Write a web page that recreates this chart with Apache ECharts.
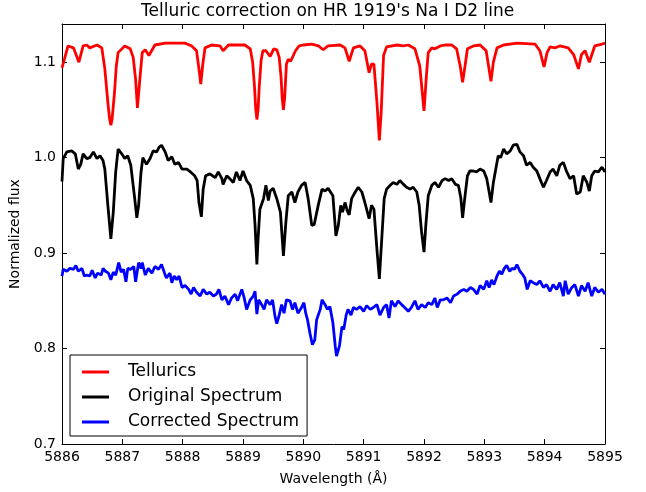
<!DOCTYPE html>
<html>
<head>
<meta charset="utf-8">
<script src="https://cdn.jsdelivr.net/npm/echarts@6/dist/echarts.min.js"></script>
<style>html,body{margin:0;padding:0;background:#fff;}#c{width:646px;height:492px;}</style>
</head>
<body>
<div id="c"></div>
<script>
// Tellurics (red)
var tellX = [5886.00,5886.10,5886.19,5886.28,5886.35,5886.41,5886.46,5886.58,5886.66,5886.71,5886.76,5886.79,5886.81,5886.83,5886.87,5886.90,5886.93,5887.04,5887.13,5887.18,5887.22,5887.25,5887.29,5887.33,5887.38,5887.44,5887.54,5887.71,5888.04,5888.15,5888.23,5888.27,5888.30,5888.33,5888.37,5888.48,5888.62,5888.67,5888.76,5889.03,5889.12,5889.16,5889.19,5889.21,5889.23,5889.25,5889.27,5889.30,5889.33,5889.38,5889.45,5889.51,5889.56,5889.60,5889.63,5889.65,5889.67,5889.69,5889.72,5889.75,5889.79,5889.82,5889.87,5889.93,5890.00,5890.14,5890.25,5890.33,5890.41,5890.61,5890.69,5890.76,5890.83,5890.94,5891.02,5891.09,5891.13,5891.17,5891.22,5891.26,5891.29,5891.33,5891.38,5891.55,5891.66,5891.74,5891.85,5891.93,5892.00,5892.04,5892.07,5892.13,5892.18,5892.27,5892.35,5892.46,5892.54,5892.60,5892.64,5892.68,5892.72,5892.82,5892.93,5893.03,5893.07,5893.11,5893.15,5893.21,5893.32,5893.54,5893.84,5893.92,5893.99,5894.04,5894.09,5894.17,5894.25,5894.39,5894.48,5894.56,5894.61,5894.67,5894.74,5894.83,5894.95,5895.00];
var tellY = [1.094,1.117,1.115,1.100,1.117,1.118,1.115,1.118,1.115,1.093,1.058,1.040,1.034,1.040,1.068,1.096,1.110,1.117,1.114,1.105,1.082,1.052,1.082,1.110,1.113,1.107,1.118,1.120,1.120,1.117,1.112,1.093,1.077,1.096,1.115,1.118,1.117,1.112,1.118,1.118,1.114,1.100,1.075,1.052,1.040,1.050,1.075,1.102,1.112,1.112,1.106,1.114,1.113,1.105,1.085,1.062,1.050,1.062,1.098,1.103,1.101,1.103,1.112,1.117,1.118,1.119,1.117,1.113,1.117,1.118,1.115,1.101,1.115,1.117,1.112,1.089,1.098,1.098,1.058,1.018,1.047,1.107,1.116,1.118,1.117,1.118,1.114,1.096,1.049,1.086,1.110,1.115,1.114,1.117,1.118,1.118,1.114,1.096,1.079,1.096,1.114,1.117,1.118,1.112,1.096,1.080,1.100,1.115,1.118,1.120,1.119,1.112,1.095,1.110,1.116,1.115,1.117,1.115,1.108,1.093,1.108,1.112,1.100,1.117,1.119,1.120];

// Original spectrum (black)
var origX = [5886.00,5886.02,5886.08,5886.16,5886.22,5886.27,5886.31,5886.35,5886.41,5886.46,5886.52,5886.58,5886.63,5886.68,5886.71,5886.76,5886.81,5886.85,5886.89,5886.93,5886.99,5887.04,5887.09,5887.14,5887.20,5887.24,5887.27,5887.31,5887.34,5887.40,5887.46,5887.51,5887.57,5887.61,5887.65,5887.71,5887.76,5887.82,5887.87,5887.93,5887.99,5888.07,5888.13,5888.20,5888.24,5888.27,5888.31,5888.34,5888.38,5888.45,5888.54,5888.59,5888.65,5888.67,5888.73,5888.78,5888.84,5888.89,5888.95,5889.00,5889.06,5889.12,5889.17,5889.20,5889.23,5889.25,5889.28,5889.34,5889.38,5889.42,5889.45,5889.50,5889.56,5889.62,5889.67,5889.71,5889.75,5889.81,5889.86,5889.91,5889.97,5890.03,5890.08,5890.14,5890.18,5890.25,5890.31,5890.36,5890.41,5890.44,5890.49,5890.54,5890.58,5890.62,5890.65,5890.69,5890.73,5890.76,5890.80,5890.86,5890.91,5890.97,5891.02,5891.09,5891.13,5891.17,5891.22,5891.26,5891.30,5891.34,5891.38,5891.44,5891.49,5891.55,5891.60,5891.66,5891.71,5891.77,5891.82,5891.88,5891.92,5891.96,5892.00,5892.03,5892.07,5892.13,5892.18,5892.24,5892.30,5892.35,5892.41,5892.46,5892.52,5892.57,5892.61,5892.64,5892.68,5892.72,5892.76,5892.82,5892.87,5892.93,5892.99,5893.04,5893.08,5893.11,5893.15,5893.19,5893.23,5893.27,5893.32,5893.37,5893.43,5893.48,5893.54,5893.59,5893.65,5893.70,5893.76,5893.81,5893.87,5893.92,5893.98,5894.03,5894.09,5894.14,5894.20,5894.25,5894.31,5894.36,5894.42,5894.48,5894.53,5894.59,5894.64,5894.70,5894.74,5894.78,5894.83,5894.89,5894.95,5895.00];
var origY = [0.975,0.999,1.006,1.007,1.004,0.988,0.993,1.004,0.999,1.000,1.006,0.999,1.002,0.997,0.988,0.950,0.915,0.943,0.985,1.009,1.004,0.999,1.002,0.992,0.960,0.937,0.950,0.985,1.000,0.993,0.999,1.007,1.006,1.011,1.013,1.006,0.997,1.001,0.993,0.995,0.988,0.988,0.985,0.981,0.976,0.953,0.938,0.967,0.981,0.983,0.979,0.985,0.978,0.972,0.981,0.978,0.974,0.985,0.976,0.986,0.976,0.971,0.957,0.929,0.888,0.915,0.946,0.957,0.971,0.955,0.965,0.968,0.957,0.943,0.897,0.932,0.960,0.964,0.953,0.964,0.971,0.974,0.957,0.929,0.930,0.951,0.967,0.965,0.968,0.969,0.960,0.918,0.929,0.950,0.943,0.953,0.944,0.940,0.957,0.964,0.969,0.964,0.953,0.936,0.950,0.946,0.904,0.873,0.915,0.957,0.967,0.971,0.974,0.972,0.976,0.972,0.969,0.967,0.969,0.964,0.950,0.922,0.901,0.929,0.960,0.971,0.974,0.969,0.976,0.978,0.976,0.978,0.972,0.971,0.958,0.937,0.960,0.981,0.986,0.986,0.985,0.988,0.986,0.978,0.964,0.953,0.974,0.988,1.002,1.000,1.009,1.004,1.007,1.013,1.014,1.006,1.002,0.992,0.995,0.990,0.986,0.978,0.969,0.976,0.985,0.988,0.981,0.992,0.995,0.986,0.978,0.981,0.962,0.964,0.981,0.974,0.965,0.981,0.986,0.985,0.990,0.985];

// Corrected spectrum (blue)
var corrX = [5886.00,5886.02,5886.08,5886.13,5886.19,5886.23,5886.27,5886.33,5886.37,5886.41,5886.46,5886.50,5886.55,5886.59,5886.65,5886.68,5886.72,5886.77,5886.81,5886.85,5886.89,5886.94,5886.98,5887.02,5887.06,5887.09,5887.14,5887.19,5887.22,5887.27,5887.31,5887.33,5887.38,5887.43,5887.49,5887.54,5887.60,5887.65,5887.70,5887.73,5887.79,5887.82,5887.86,5887.90,5887.94,5887.99,5888.04,5888.10,5888.14,5888.18,5888.23,5888.29,5888.34,5888.40,5888.45,5888.51,5888.56,5888.60,5888.65,5888.70,5888.76,5888.81,5888.87,5888.91,5888.98,5889.02,5889.06,5889.12,5889.17,5889.20,5889.23,5889.26,5889.31,5889.35,5889.39,5889.45,5889.49,5889.53,5889.56,5889.60,5889.64,5889.68,5889.72,5889.78,5889.82,5889.86,5889.91,5889.97,5890.01,5890.04,5890.07,5890.11,5890.15,5890.19,5890.22,5890.28,5890.31,5890.36,5890.40,5890.44,5890.49,5890.53,5890.55,5890.60,5890.64,5890.67,5890.71,5890.74,5890.79,5890.83,5890.88,5890.94,5891.00,5891.05,5891.11,5891.16,5891.22,5891.27,5891.33,5891.38,5891.42,5891.46,5891.52,5891.57,5891.63,5891.68,5891.74,5891.79,5891.85,5891.90,5891.96,5892.02,5892.07,5892.13,5892.18,5892.22,5892.27,5892.32,5892.38,5892.44,5892.49,5892.55,5892.60,5892.66,5892.71,5892.77,5892.82,5892.88,5892.93,5892.99,5893.04,5893.08,5893.12,5893.16,5893.21,5893.25,5893.29,5893.33,5893.37,5893.42,5893.46,5893.50,5893.54,5893.59,5893.63,5893.67,5893.71,5893.76,5893.81,5893.87,5893.92,5893.98,5894.03,5894.09,5894.14,5894.20,5894.25,5894.31,5894.34,5894.39,5894.45,5894.50,5894.56,5894.61,5894.67,5894.72,5894.78,5894.83,5894.89,5894.95,5895.00];
var corrY = [0.876,0.883,0.881,0.884,0.883,0.887,0.881,0.884,0.876,0.877,0.876,0.882,0.874,0.879,0.877,0.884,0.881,0.879,0.872,0.880,0.877,0.890,0.880,0.883,0.870,0.884,0.883,0.886,0.870,0.890,0.884,0.890,0.877,0.884,0.879,0.886,0.883,0.888,0.879,0.874,0.879,0.869,0.876,0.872,0.876,0.864,0.866,0.862,0.857,0.864,0.859,0.855,0.862,0.857,0.859,0.855,0.857,0.862,0.851,0.855,0.846,0.853,0.857,0.850,0.862,0.853,0.841,0.851,0.855,0.860,0.836,0.851,0.846,0.841,0.851,0.846,0.851,0.834,0.826,0.835,0.846,0.837,0.851,0.850,0.841,0.848,0.837,0.843,0.848,0.837,0.830,0.816,0.804,0.809,0.830,0.841,0.851,0.846,0.841,0.844,0.827,0.802,0.792,0.803,0.823,0.820,0.835,0.841,0.835,0.843,0.841,0.844,0.839,0.845,0.841,0.843,0.846,0.835,0.843,0.846,0.832,0.850,0.844,0.850,0.846,0.843,0.839,0.843,0.850,0.841,0.846,0.843,0.848,0.846,0.853,0.843,0.851,0.851,0.853,0.848,0.855,0.857,0.860,0.862,0.860,0.864,0.862,0.857,0.866,0.862,0.871,0.864,0.872,0.867,0.876,0.881,0.878,0.884,0.887,0.881,0.884,0.883,0.888,0.881,0.878,0.874,0.862,0.871,0.869,0.867,0.871,0.864,0.867,0.860,0.867,0.862,0.869,0.855,0.871,0.857,0.864,0.867,0.855,0.866,0.860,0.869,0.855,0.864,0.859,0.862,0.857];

var xTicks = [5886,5887,5888,5889,5890,5891,5892,5893,5894,5895];
var yTicks = [0.7,0.8,0.9,1.0,1.1];

function zip(xs, ys){ var o=[]; for(var i=0;i<xs.length;i++){o.push([xs[i],ys[i]]);} return o; }

var FONT = 'DejaVu Sans';
var chart = echarts.init(document.getElementById('c'), null, {renderer:'canvas'});
var axisCommon = {
  axisLine:{show:true, onZero:false, lineStyle:{color:'#000', width:1}},
  axisTick:{show:true, inside:true, length:5, lineStyle:{color:'#000', width:1}},
  splitLine:{show:false}
};
function yFmt(v){ for(var i=0;i<yTicks.length;i++){ if(Math.abs(v-yTicks[i])<1e-6) return yTicks[i].toFixed(1);} return ''; }
function xFmt(v){ for(var i=0;i<xTicks.length;i++){ if(Math.abs(v-xTicks[i])<1e-6) return String(xTicks[i]);} return ''; }

chart.setOption({
  animation:false,
  backgroundColor:'#fff',
  title:{text:"Telluric correction on HR 1919's Na I D2 line", left:141, top:3, padding:0,
    textStyle:{fontFamily:FONT, fontSize:17, fontWeight:'normal', color:'#000'}},
  grid:{left:62, right:41, top:24, bottom:48, containLabel:false},
  legend:{
    orient:'vertical', left:70, top:355,
    data:['Tellurics','Original Spectrum','Corrected Spectrum'],
    icon:'rect',
    itemWidth:27, itemHeight:3, itemGap:5,
    padding:[7,8,4,12],
    borderColor:'#000', borderWidth:1, borderRadius:0, backgroundColor:'#fff',
    textStyle:{fontFamily:FONT, fontSize:17, color:'#000', lineHeight:20, padding:[0,0,0,14]}
  },
  xAxis:[
    Object.assign({type:'value', position:'bottom', min:5886, max:5895, interval:1,
      name:'Wavelength (Å)', nameLocation:'middle', nameGap:28,
      nameTextStyle:{fontFamily:FONT, fontSize:14, color:'#000'},
      axisLabel:{show:true, margin:6, fontFamily:FONT, fontSize:14, color:'#000', formatter:xFmt}}, axisCommon),
    Object.assign({type:'value', position:'top', min:5886, max:5895, interval:1,
      axisLabel:{show:false}}, axisCommon)
  ],
  yAxis:[
    Object.assign({type:'value', position:'left', min:0.7, max:1.14, interval:0.1,
      name:'Normalized flux', nameLocation:'middle', nameGap:31,
      nameTextStyle:{fontFamily:FONT, fontSize:14, color:'#000'},
      axisLabel:{show:true, margin:6, fontFamily:FONT, fontSize:14, color:'#000', formatter:yFmt}}, axisCommon),
    Object.assign({type:'value', position:'right', min:0.7, max:1.14, interval:0.1,
      axisLabel:{show:false}}, axisCommon)
  ],
  series:[
    {name:'Tellurics', type:'line', data:zip(tellX,tellY), symbol:'none', lineStyle:{color:'#ff0000', width:2.8}, itemStyle:{color:'#ff0000'}, z:2},
    {name:'Original Spectrum', type:'line', data:zip(origX,origY), symbol:'none', lineStyle:{color:'#000000', width:2.8}, itemStyle:{color:'#000000'}, z:3},
    {name:'Corrected Spectrum', type:'line', data:zip(corrX,corrY), symbol:'none', lineStyle:{color:'#0000ff', width:2.8}, itemStyle:{color:'#0000ff'}, z:4}
  ]
});
</script>
</body>
</html>
